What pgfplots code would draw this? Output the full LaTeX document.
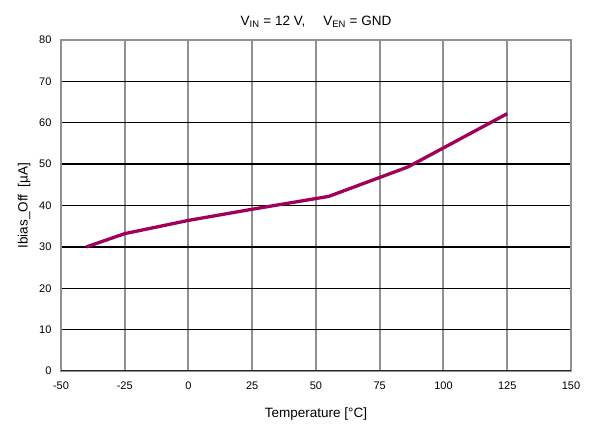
\documentclass[border=0pt]{standalone}
\usepackage{pgfplots}
\pgfplotsset{compat=1.18}
\usepackage{fontspec}
\setmainfont{Liberation Sans}
\definecolor{curve}{RGB}{160,0,90}
\definecolor{frame}{RGB}{145,145,145}
\begin{document}
\begin{tikzpicture}[x=1pt,y=1pt]
\path[use as bounding box] (-61,-54) rectangle (529,371);
\begin{axis}[
  at={(0,0)}, anchor=south west,
  scale only axis, width=510pt, height=331pt,
  xmin=-50, xmax=150, ymin=0, ymax=80,
  xtick={-50,-25,0,25,50,75,100,125,150},
  ytick={0,10,...,80},
  major tick length=0pt,
  grid=major,
  x grid style={frame, line width=2pt},
  y grid style={black, line width=1.4pt},
  axis line style={frame, line width=2pt},
  tick label style={font=\fontsize{11}{12}\selectfont},
  /pgf/number format/assume math mode=true,
  xticklabel style={yshift=-7pt},
  yticklabel style={xshift=-6pt},
  xlabel={Temperature [°C]},
  ylabel={Ibias\_Off\ \ [µA]},
  label style={font=\fontsize{13.5}{15}\selectfont},
  xlabel style={yshift=-12pt},
  ylabel style={yshift=2pt},
  title={V\textsubscript{IN} = 12 V,\hspace{18pt}V\textsubscript{EN} = GND},
  title style={font=\fontsize{13.5}{15}\selectfont, yshift=3pt},
]
\addplot[curve, line width=3.3pt] coordinates {
(-40,30.0) (-25,33.2) (0,36.4) (25,39.1) (55,42.2) (86,49.3) (125,62.2)
};
\draw[black!85, line width=2pt] (rel axis cs:0,0) -- (rel axis cs:1,0);
\end{axis}
\end{tikzpicture}
\end{document}
